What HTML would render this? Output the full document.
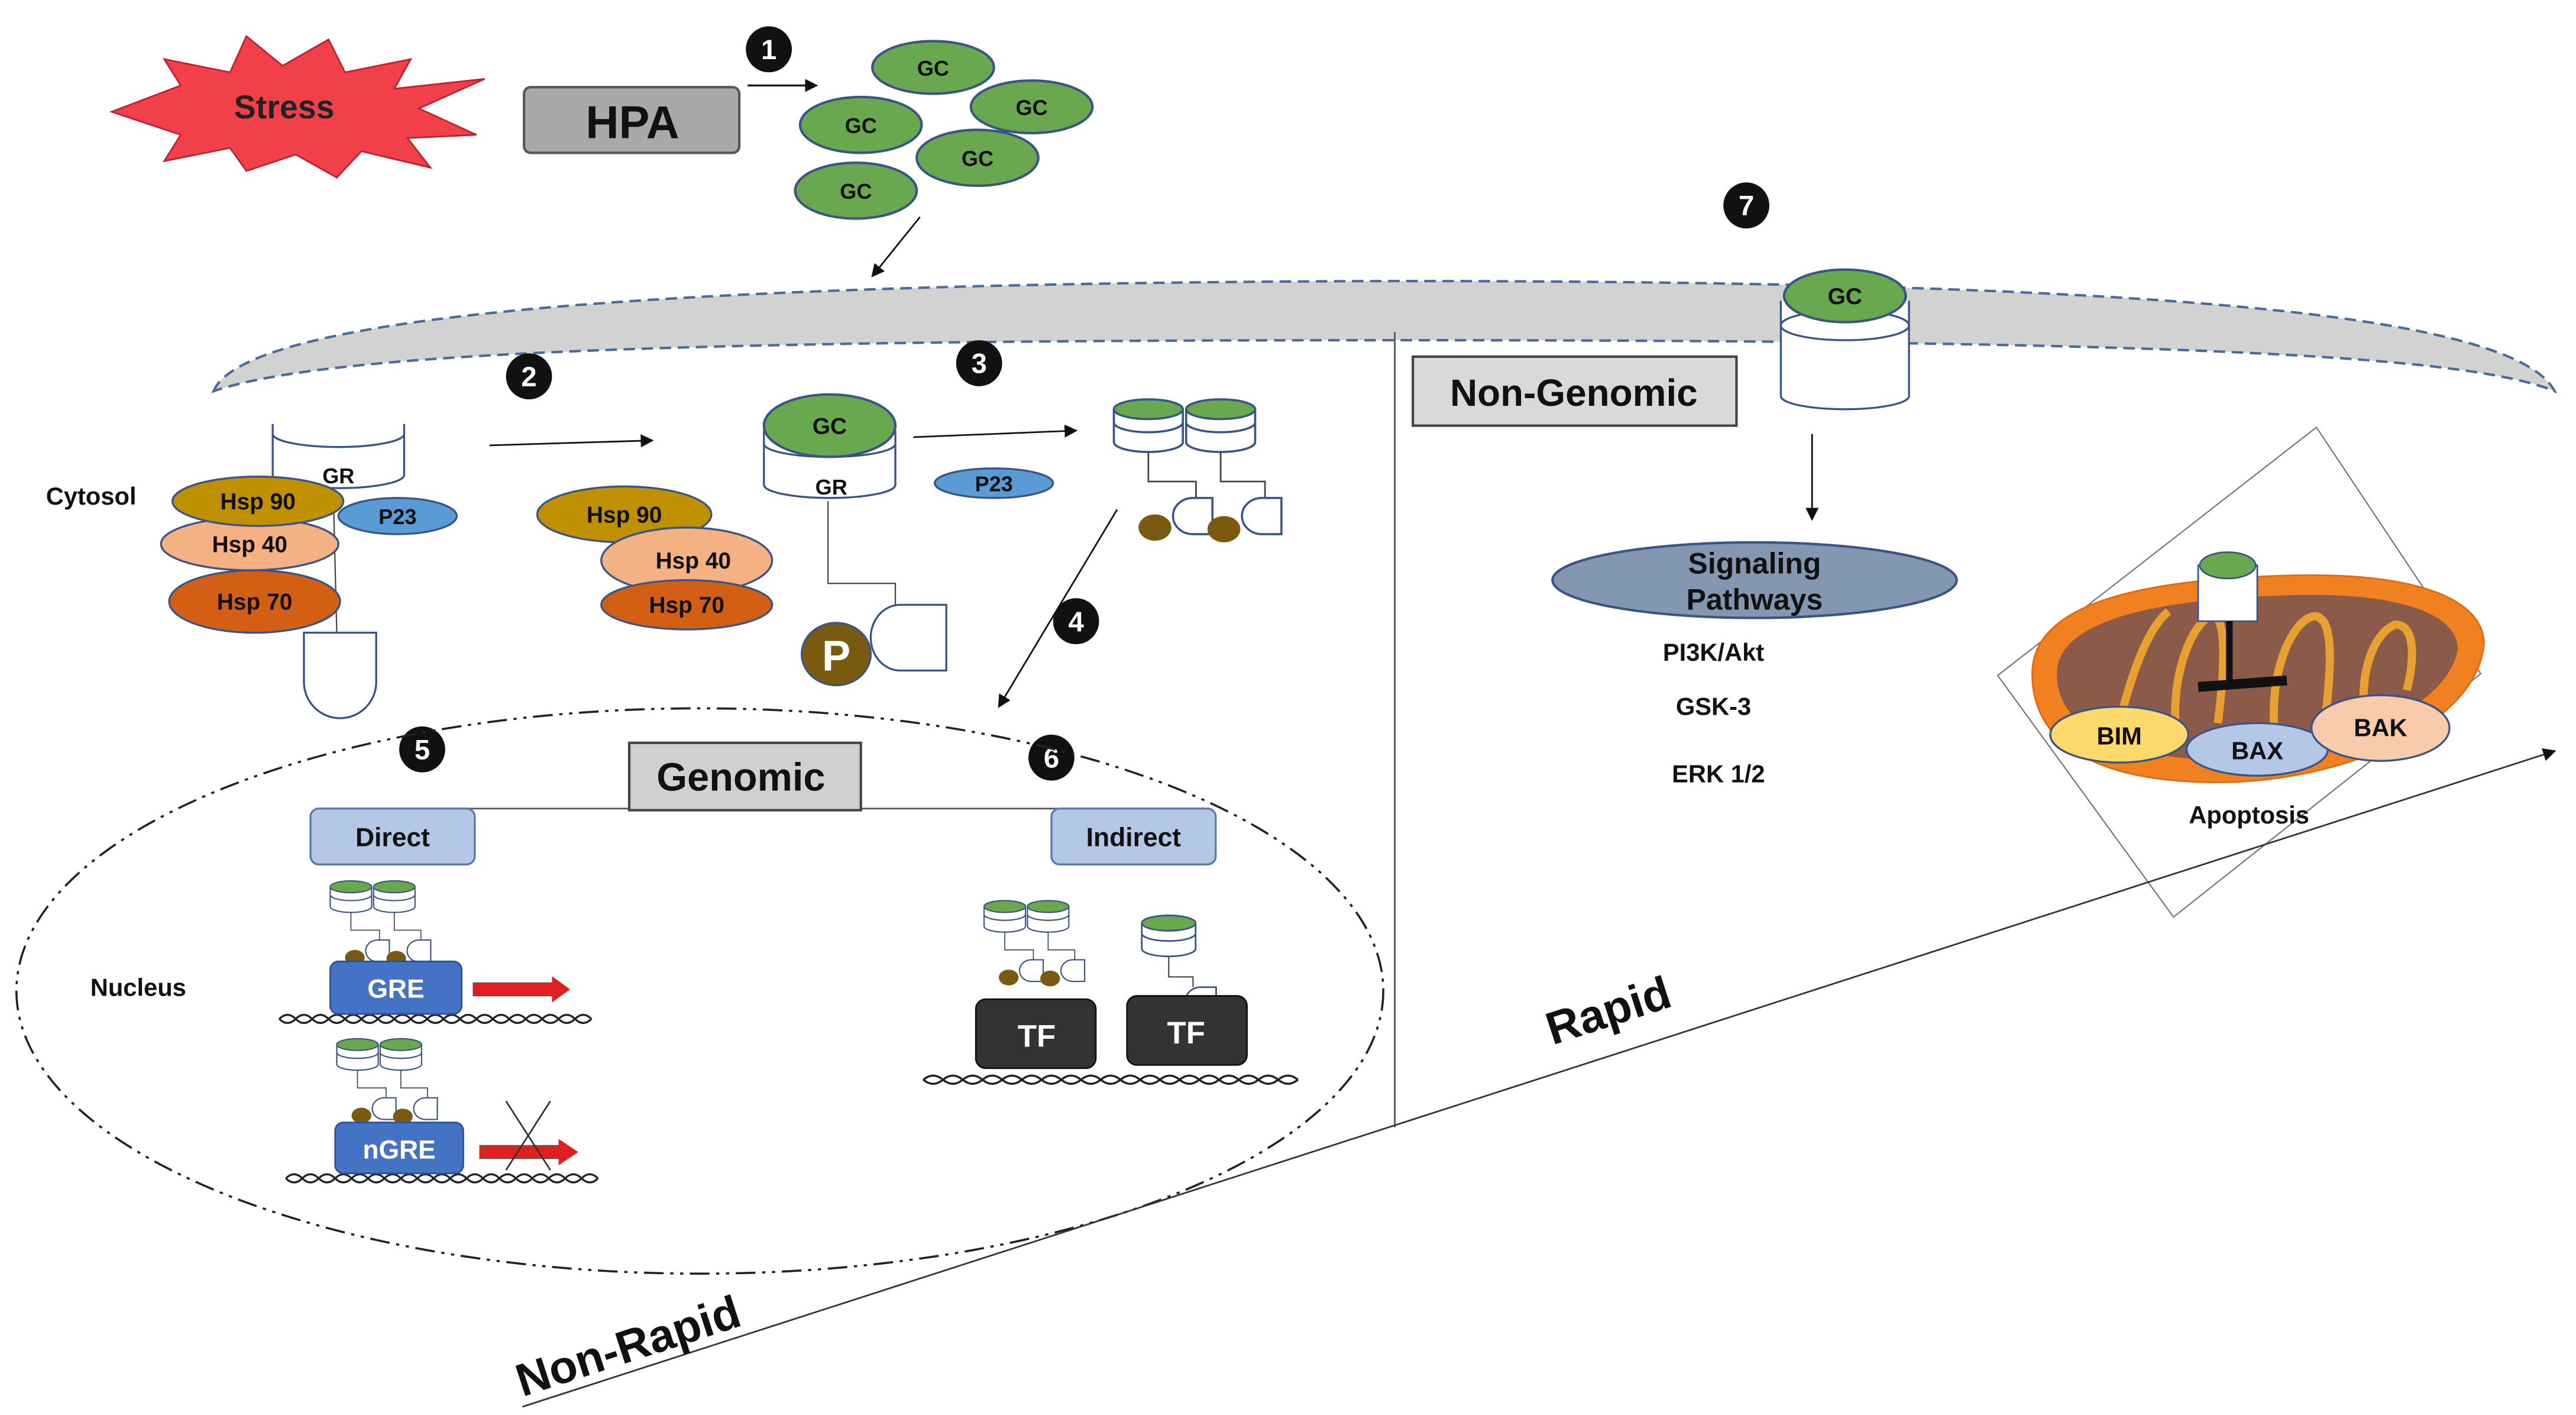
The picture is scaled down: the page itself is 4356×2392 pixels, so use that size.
<!DOCTYPE html>
<html><head><meta charset="utf-8"><style>
html,body{margin:0;padding:0;background:#fff}
svg{display:block}
text{font-family:"Liberation Sans",Arial,sans-serif;font-weight:bold}
</style></head><body>
<svg width="4356" height="2392" viewBox="0 0 1568 861" xmlns="http://www.w3.org/2000/svg">
<defs>
<marker id="ar" markerWidth="8" markerHeight="8" refX="7" refY="4" orient="auto" markerUnits="userSpaceOnUse"><path d="M0,0 L8,4 L0,8 z" fill="#111"/></marker>
<g id="cyl">
 <path d="M0,6 L0,26 A21,6 0 0 0 42,26 L42,6" fill="#fff" stroke="#3a5585" stroke-width="1.3"/>
 <path d="M0,14 A21,6 0 0 0 42,14" fill="none" stroke="#3a5585" stroke-width="1.3"/>
 <ellipse cx="21" cy="6" rx="21" ry="6" fill="#6aa84f" stroke="#3a5585" stroke-width="1.3"/>
</g>
<g id="dimer">
 <use href="#cyl" x="0" y="0"/><use href="#cyl" x="44" y="0"/>
 <path d="M21,32 V50 H50 V60 M65,32 V50 H92 V60" fill="none" stroke="#444" stroke-width="1"/>
 <path d="M60,60 h-12 a12,11 0 0 0 0,22 h12 z" fill="#fff" stroke="#3a5585" stroke-width="1.3"/>
 <path d="M102,60 h-12 a12,11 0 0 0 0,22 h12 z" fill="#fff" stroke="#3a5585" stroke-width="1.3"/>
 <ellipse cx="25" cy="78" rx="10" ry="8" fill="#7a5a10"/>
 <ellipse cx="67" cy="79" rx="10" ry="8" fill="#7a5a10"/>
</g>
<g id="dna">
 <path d="M0,0 Q5,-5 10,0 T20,0 T30,0 T40,0 T50,0 T60,0 T70,0 T80,0 T90,0 T100,0 T110,0 T120,0 T130,0 T140,0 T150,0 T160,0 T170,0 T180,0 T190,0" fill="none" stroke="#222" stroke-width="1.2"/>
 <path d="M0,0 Q5,5 10,0 T20,0 T30,0 T40,0 T50,0 T60,0 T70,0 T80,0 T90,0 T100,0 T110,0 T120,0 T130,0 T140,0 T150,0 T160,0 T170,0 T180,0 T190,0" fill="none" stroke="#222" stroke-width="1.2"/>
</g>
</defs>

<!-- Stress -->
<polygon points="68,68 110,52 100,36 140,44 150,22 172,40 200,24 210,44 250,36 240,54 295,48 255,66 290,82 248,84 262,102 220,92 205,108 180,94 150,104 140,90 100,98 110,82" fill="#f0404a" stroke="#c02030" stroke-width="1"/>
<text x="173" y="72" font-size="20" text-anchor="middle" fill="#222">Stress</text>

<rect x="319" y="53" width="131" height="40" rx="4" fill="#a9a9a9" stroke="#555" stroke-width="1.5"/>
<text x="385" y="84" font-size="28" text-anchor="middle" fill="#111">HPA</text>
<line x1="455" y1="52" x2="497" y2="52" stroke="#111" stroke-width="1.2" marker-end="url(#ar)"/>

<!-- GCs -->
<g stroke="#3a5585" stroke-width="1.5" fill="#6aa84f">
<ellipse cx="568" cy="41" rx="37" ry="16"/>
<ellipse cx="524" cy="76" rx="37" ry="17"/>
<ellipse cx="628" cy="65" rx="37" ry="16"/>
<ellipse cx="595" cy="96" rx="37" ry="17"/>
<ellipse cx="521" cy="116" rx="37" ry="17"/>
</g>
<g font-size="13" text-anchor="middle" fill="#111">
<text x="568" y="46">GC</text><text x="524" y="81">GC</text><text x="628" y="70">GC</text><text x="595" y="101">GC</text><text x="521" y="121">GC</text>
</g>
<line x1="560" y1="132" x2="531" y2="168" stroke="#111" stroke-width="1" marker-end="url(#ar)"/>

<!-- membrane -->
<path d="M130,238 C150,190 420,172 850,171 C1300,171 1530,190 1555,238 C1500,215 1300,207 850,207 C420,207 200,214 130,238 Z" fill="#d2d2d2" stroke="#4a6a9a" stroke-width="1.5" stroke-dasharray="7,4"/>

<!-- membrane receptor 7 -->
<path d="M1084,183 L1084,241 A39,8 0 0 0 1162,241 L1162,183" fill="#fff" stroke="#3a5585" stroke-width="1.2"/>
<ellipse cx="1123" cy="198" rx="39" ry="9" fill="none" stroke="#3a5585" stroke-width="1.2"/>
<ellipse cx="1123" cy="180" rx="37" ry="16" fill="#6aa84f" stroke="#3a5585" stroke-width="1.5"/>
<text x="1123" y="185" font-size="14" text-anchor="middle" fill="#111">GC</text>

<!-- divider -->
<line x1="849" y1="202" x2="849" y2="686" stroke="#555" stroke-width="1"/>

<!-- numbers -->
<g font-size="17" text-anchor="middle" fill="#fff">
<circle cx="468" cy="30" r="14" fill="#111"/><text x="468" y="36">1</text>
<circle cx="322" cy="229" r="14" fill="#111"/><text x="322" y="235">2</text>
<circle cx="596" cy="221" r="14" fill="#111"/><text x="596" y="227">3</text>
<circle cx="655" cy="378" r="14" fill="#111"/><text x="655" y="384">4</text>
<circle cx="257" cy="456" r="14" fill="#111"/><text x="257" y="462">5</text>
<circle cx="640" cy="461" r="14" fill="#111"/><text x="640" y="467">6</text>
<circle cx="1063" cy="125" r="14" fill="#111"/><text x="1063" y="131">7</text>
<circle cx="1376" cy="305" r="14" fill="#111"/><text x="1376" y="311">8</text>
</g>

<!-- cytosol complex -->
<text x="28" y="307" font-size="15" fill="#111">Cytosol</text>
<path d="M166,258 V289 A40,8 0 0 0 246,289 V258" fill="none" stroke="#3a5585" stroke-width="1.2"/>
<path d="M166,264 A40,8 0 0 0 246,264" fill="none" stroke="#3a5585" stroke-width="1.2"/>
<text x="206" y="294" font-size="13" text-anchor="middle" fill="#111">GR</text>
<line x1="203" y1="305" x2="205" y2="385" stroke="#444" stroke-width="0.8"/>
<path d="M185,385 h44 v30 a22,22 0 0 1 -44,0z" fill="#fff" stroke="#3a5585" stroke-width="1.2"/>
<ellipse cx="155" cy="366" rx="52" ry="19" fill="#d35f14" stroke="#3a5585" stroke-width="1.2"/>
<ellipse cx="152" cy="331" rx="54" ry="16" fill="#f4b183" stroke="#3a5585" stroke-width="1.2"/>
<ellipse cx="157" cy="305" rx="52" ry="15" fill="#bf9000" stroke="#3a5585" stroke-width="1.2"/>
<ellipse cx="242" cy="314" rx="36" ry="11" fill="#5b9bd5" stroke="#3a5585" stroke-width="1.2"/>
<g font-size="14" text-anchor="middle" fill="#111">
<text x="157" y="310">Hsp 90</text><text x="152" y="336">Hsp 40</text><text x="155" y="371">Hsp 70</text><text x="242" y="319" font-size="13">P23</text>
</g>
<line x1="298" y1="271" x2="397" y2="268" stroke="#111" stroke-width="1" marker-end="url(#ar)"/>

<!-- free Hsps -->
<ellipse cx="380" cy="313" rx="53" ry="17" fill="#bf9000" stroke="#3a5585" stroke-width="1.2"/>
<ellipse cx="418" cy="341" rx="52" ry="20" fill="#f4b183" stroke="#3a5585" stroke-width="1.2"/>
<ellipse cx="418" cy="368" rx="52" ry="15" fill="#d35f14" stroke="#3a5585" stroke-width="1.2"/>
<g font-size="14" text-anchor="middle" fill="#111">
<text x="380" y="318">Hsp 90</text><text x="422" y="346">Hsp 40</text><text x="418" y="373">Hsp 70</text>
</g>

<!-- step 3 -->
<path d="M465,262 V295 A40,8 0 0 0 545,295 V262" fill="#fff" stroke="#3a5585" stroke-width="1.2"/>
<path d="M465,270 A40,8 0 0 0 545,270" fill="none" stroke="#3a5585" stroke-width="1.2"/>
<ellipse cx="505" cy="259" rx="40" ry="19" fill="#6aa84f" stroke="#3a5585" stroke-width="1.5"/>
<text x="505" y="264" font-size="14" text-anchor="middle" fill="#111">GC</text>
<text x="506" y="301" font-size="13" text-anchor="middle" fill="#111">GR</text>
<path d="M504,305 V355 H545 V368" fill="none" stroke="#444" stroke-width="0.8"/>
<path d="M548,368 h28 v40 h-28 a18,20 0 0 1 0,-40z" fill="#fff" stroke="#3a5585" stroke-width="1.2"/>
<ellipse cx="509" cy="398" rx="21" ry="19" fill="#7a5a10" stroke="#3a5585" stroke-width="1.2"/>
<text x="509" y="408" font-size="26" text-anchor="middle" fill="#fff">P</text>
<ellipse cx="605" cy="294" rx="36" ry="9" fill="#5b9bd5" stroke="#3a5585" stroke-width="1.2"/>
<text x="605" y="299" font-size="13" text-anchor="middle" fill="#111">P23</text>
<line x1="556" y1="266" x2="655" y2="262" stroke="#111" stroke-width="1" marker-end="url(#ar)"/>

<use href="#dimer" transform="translate(678,243)"/>
<line x1="680" y1="310" x2="608" y2="430" stroke="#111" stroke-width="1" marker-end="url(#ar)"/>

<!-- nucleus -->
<ellipse cx="426" cy="603" rx="416" ry="172" fill="none" stroke="#222" stroke-width="1.3" stroke-dasharray="12,4,2,4,2,4"/>
<text x="55" y="606" font-size="15" fill="#111">Nucleus</text>
<line x1="238" y1="492" x2="690" y2="492" stroke="#555" stroke-width="1"/>
<rect x="383" y="452" width="141" height="41" fill="#d0d0d0" stroke="#444" stroke-width="1.5"/>
<text x="451" y="481" font-size="24" text-anchor="middle" fill="#111">Genomic</text>
<rect x="189" y="492" width="100" height="34" rx="5" fill="#b4c7e7" stroke="#5a7aaa" stroke-width="1.2"/>
<text x="239" y="515" font-size="16" text-anchor="middle" fill="#111">Direct</text>
<rect x="640" y="492" width="100" height="34" rx="5" fill="#b4c7e7" stroke="#5a7aaa" stroke-width="1.2"/>
<text x="690" y="515" font-size="16" text-anchor="middle" fill="#111">Indirect</text>

<!-- direct GRE -->
<use href="#dimer" transform="translate(201,536) scale(0.6)"/>
<use href="#dna" transform="translate(170,620)"/>
<rect x="201" y="585" width="80" height="32" rx="5" fill="#4472c4" stroke="#2f528f" stroke-width="1"/>
<text x="241" y="607" font-size="16" text-anchor="middle" fill="#fff">GRE</text>
<rect x="288" y="598" width="50" height="8" fill="#e02020" stroke="#555" stroke-width="0.5"/>
<polygon points="336,594 347,602 336,610" fill="#e02020"/>

<use href="#dimer" transform="translate(205,632) scale(0.6)"/>
<use href="#dna" transform="translate(174,717)"/>
<rect x="204" y="683" width="78" height="31" rx="5" fill="#4472c4" stroke="#2f528f" stroke-width="1"/>
<text x="243" y="705" font-size="16" text-anchor="middle" fill="#fff">nGRE</text>
<rect x="292" y="697" width="50" height="8" fill="#e02020" stroke="#555" stroke-width="0.5"/>
<polygon points="340,693 352,701 340,709" fill="#e02020"/>
<line x1="308" y1="670" x2="335" y2="712" stroke="#333" stroke-width="1"/>
<line x1="335" y1="670" x2="308" y2="712" stroke="#333" stroke-width="1"/>

<!-- indirect TF -->
<use href="#dimer" transform="translate(599,548) scale(0.6)"/>
<g transform="translate(695,557) scale(0.78)">
 <use href="#cyl" x="0" y="0"/>
 <path d="M21,32 V48 H40 V56" fill="none" stroke="#444" stroke-width="1"/>
 <path d="M58,56 h-12 a12,11 0 0 0 0,22 h12 z" fill="#fff" stroke="#3a5585" stroke-width="1.3"/>
 <ellipse cx="25" cy="74" rx="10" ry="8" fill="#7a5a10"/>
</g>
<use href="#dna" transform="translate(562,657) scale(1.2,1)"/>
<rect x="594" y="608" width="73" height="42" rx="6" fill="#333" stroke="#111"/>
<text x="631" y="637" font-size="19" text-anchor="middle" fill="#fff">TF</text>
<rect x="686" y="606" width="73" height="42" rx="6" fill="#333" stroke="#111"/>
<text x="722" y="635" font-size="19" text-anchor="middle" fill="#fff">TF</text>

<!-- Non-genomic -->
<rect x="860" y="217" width="197" height="42" fill="#d9d9d9" stroke="#444" stroke-width="1.5"/>
<text x="958" y="247" font-size="23" text-anchor="middle" fill="#111">Non-Genomic</text>
<line x1="1103" y1="264" x2="1103" y2="316" stroke="#111" stroke-width="1" marker-end="url(#ar)"/>
<ellipse cx="1068" cy="353" rx="123" ry="23" fill="#8497b0" stroke="#3a5585" stroke-width="1.5"/>
<text x="1068" y="349" font-size="18" text-anchor="middle" fill="#111">Signaling</text>
<text x="1068" y="371" font-size="18" text-anchor="middle" fill="#111">Pathways</text>
<g font-size="15" text-anchor="middle" fill="#111">
<text x="1043" y="402">PI3K/Akt</text><text x="1043" y="435">GSK-3</text><text x="1046" y="476">ERK 1/2</text>
</g>

<!-- mitochondria box -->
<polygon points="1216,411 1410,260 1510,410 1323,558" fill="#fff" stroke="#777" stroke-width="0.8"/>
<path d="M1237,410 C1237,368 1300,352 1400,350 C1475,349 1512,366 1512,392 C1507,442 1425,476 1350,476 C1275,476 1237,452 1237,410 Z" fill="#f08020" stroke="#e06a10"/>
<path d="M1252,410 C1252,378 1310,364 1400,362 C1465,361 1496,375 1496,395 C1490,434 1412,462 1350,462 C1288,462 1252,442 1252,410 Z" fill="#8c5a48"/>
<g fill="none" stroke="#e8a030" stroke-width="5">
<path d="M1290,440 C1300,400 1310,380 1320,372"/>
<path d="M1325,450 C1320,410 1335,380 1345,375 C1355,372 1355,400 1350,440"/>
<path d="M1385,450 C1380,410 1395,378 1408,375 C1420,374 1420,400 1415,440"/>
<path d="M1440,440 C1435,410 1445,385 1458,380 C1470,380 1470,400 1465,420"/>
</g>
<rect x="1338" y="344" width="36" height="34" fill="#fff" stroke="#3a5585" stroke-width="1"/>
<ellipse cx="1356" cy="344" rx="17" ry="8" fill="#6aa84f" stroke="#3a5585"/>
<line x1="1357" y1="378" x2="1357" y2="417" stroke="#111" stroke-width="4"/>
<line x1="1338" y1="418" x2="1392" y2="414" stroke="#111" stroke-width="6"/>
<ellipse cx="1290" cy="447" rx="42" ry="17" fill="#fdd86a" stroke="#3a5585" stroke-width="1.2"/>
<ellipse cx="1374" cy="456" rx="43" ry="16" fill="#b4c7e7" stroke="#3a5585" stroke-width="1.2"/>
<ellipse cx="1449" cy="443" rx="42" ry="20" fill="#f8cbad" stroke="#3a5585" stroke-width="1.2"/>
<g font-size="15" text-anchor="middle" fill="#111">
<text x="1290" y="453">BIM</text><text x="1374" y="462">BAX</text><text x="1449" y="448">BAK</text>
</g>
<text x="1369" y="501" font-size="15" text-anchor="middle" fill="#111">Apoptosis</text>

<!-- Rapid axis -->
<line x1="318" y1="856" x2="1555" y2="457" stroke="#333" stroke-width="1" marker-end="url(#ar)"/>
<text x="0" y="0" font-size="28" fill="#111" transform="translate(318,850) rotate(-18)">Non-Rapid</text>
<text x="0" y="0" font-size="28" fill="#111" transform="translate(945,636) rotate(-18)">Rapid</text>
</svg>
</body></html>
